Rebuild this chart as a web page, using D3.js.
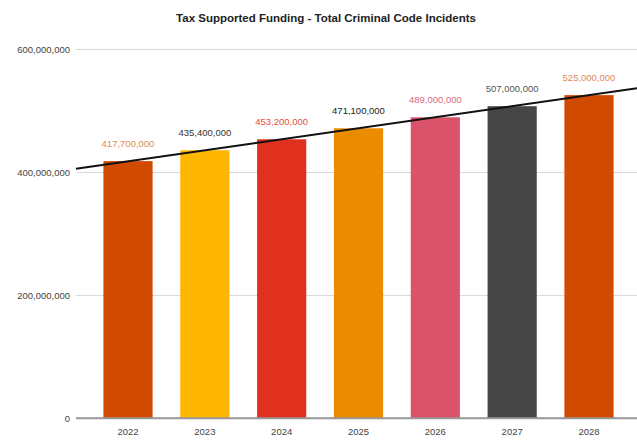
<!DOCTYPE html>
<html>
<head>
<meta charset="utf-8">
<script src="https://cdn.jsdelivr.net/npm/d3@7"></script>
<style>
  html, body { margin: 0; padding: 0; background: #fff; }
  svg { display: block; font-family: "Liberation Sans", Arial, sans-serif; }
</style>
</head>
<body>
<svg id="chart" width="637" height="442"></svg>
<script>
// Tax supported funding by year
const years = ["2022", "2023", "2024", "2025", "2026", "2027", "2028"];
const funding = [417700000, 435400000, 453200000, 471100000, 489000000, 507000000, 525000000];
const barColors = ["#d04a02", "#ffb600", "#e0301e", "#eb8c00", "#db536a", "#464646", "#d04a02"];
const labelColors = ["#e08a55", "#333333", "#e0503e", "#222222", "#dc6a80", "#555555", "#de8a5a"];
const yTicks = [0, 200000000, 400000000, 600000000];
const title = "Tax Supported Funding - Total Criminal Code Incidents";

const svg = d3.select("#chart");
const W = 637, H = 442;
const area = { left: 76, right: 637, top: 49, bottom: 418 };

const x = d3.scaleBand()
  .domain(years)
  .range([89.6, 627.4])
  .paddingInner(0.36)
  .paddingOuter(0.18);

const y = d3.scaleLinear()
  .domain([0, 600000000])
  .range([area.bottom, area.top]);

const fmt = d3.format(",");

// title
svg.append("text")
  .attr("x", 326)
  .attr("y", 22)
  .attr("text-anchor", "middle")
  .attr("font-size", 11.5)
  .attr("font-weight", "bold")
  .attr("fill", "#222")
  .text(title);

// horizontal gridlines with labels
const yAxis = d3.axisLeft(y)
  .tickValues(yTicks)
  .tickFormat(d => fmt(d))
  .tickSize(-(area.right - area.left))
  .tickPadding(6);

const gy = svg.append("g")
  .attr("transform", `translate(${area.left},0)`)
  .call(yAxis);
gy.select(".domain").remove();
gy.selectAll(".tick line")
  .attr("stroke", d => d === 0 ? "#999" : "#d9d9d9")
  .attr("stroke-width", d => d === 0 ? 1.5 : 1);
gy.selectAll(".tick text")
  .attr("font-size", 9.5)
  .attr("fill", "#444")
  .attr("font-family", "Liberation Sans, Arial, sans-serif");

// bars
svg.append("g")
  .selectAll("rect")
  .data(years)
  .join("rect")
  .attr("x", d => x(d))
  .attr("width", x.bandwidth())
  .attr("y", (d, i) => y(funding[i]))
  .attr("height", (d, i) => y(0) - y(funding[i]))
  .attr("fill", (d, i) => barColors[i]);

// baseline above bars
svg.append("line")
  .attr("x1", area.left).attr("x2", area.right)
  .attr("y1", y(0)).attr("y2", y(0))
  .attr("stroke", "#999").attr("stroke-width", 1.5);

// x axis labels
const xAxis = d3.axisBottom(x).tickSize(0).tickPadding(10);
const gx = svg.append("g")
  .attr("transform", `translate(0,${area.bottom})`)
  .call(xAxis);
gx.select(".domain").remove();
gx.selectAll(".tick text")
  .attr("font-size", 9.5)
  .attr("fill", "#444")
  .attr("font-family", "Liberation Sans, Arial, sans-serif");

// linear trendline (least squares over year index)
const n = funding.length;
const idx = d3.range(n);
const mx = d3.mean(idx), my = d3.mean(funding);
const slope = d3.sum(idx, i => (i - mx) * (funding[i] - my)) / d3.sum(idx, i => (i - mx) ** 2);
const intercept = my - slope * mx;
const centerOf = i => x(years[i]) + x.bandwidth() / 2;
const step = x.step();
const idxAt = px => (px - centerOf(0)) / step;
const trendX = [area.left, area.right];
svg.append("line")
  .attr("x1", trendX[0]).attr("x2", trendX[1])
  .attr("y1", y(intercept + slope * idxAt(trendX[0])))
  .attr("y2", y(intercept + slope * idxAt(trendX[1])))
  .attr("stroke", "#111")
  .attr("stroke-width", 2);

// value labels above bars
svg.append("g")
  .selectAll("text")
  .data(years)
  .join("text")
  .attr("x", (d, i) => centerOf(i))
  .attr("y", (d, i) => y(funding[i]) - 14)
  .attr("text-anchor", "middle")
  .attr("font-size", 9.5)
  .attr("fill", (d, i) => labelColors[i])
  .text((d, i) => fmt(funding[i]));
</script>
</body>
</html>
